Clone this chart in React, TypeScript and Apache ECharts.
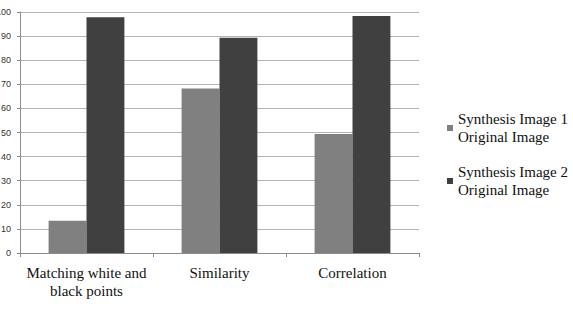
import React, { useEffect, useRef } from "react";
import * as echarts from "echarts";

const categories = ["Matching white and\nblack points", "Similarity", "Correlation"];
const seriesNames = ["Synthesis Image 1\nOriginal Image", "Synthesis Image 2\nOriginal Image"];
const series1 = [13.4, 68.3, 49.4];
const series2 = [97.8, 89.3, 98.3];
const yMin = 0;
const yMax = 100;
const yStep = 10;

export default function App() {
  const ref = useRef<HTMLDivElement>(null);
  useEffect(() => {
    if (!ref.current) return;
    const chart = echarts.init(ref.current, null, { renderer: "svg" });
    chart.setOption({
      animation: false,
      backgroundColor: "#ffffff",
      grid: {
        left: 20,
        right: 154,
        top: 12,
        bottom: 57,
        containLabel: false,
        outerBoundsMode: "none",
      },
      legend: {
        orient: "vertical",
        left: 447,
        top: 101,
        padding: 0,
        itemWidth: 6,
        itemHeight: 6,
        itemGap: -1,
        icon: "rect",
        data: seriesNames,
        textStyle: {
          fontFamily: "Liberation Serif",
          fontSize: 15,
          lineHeight: 18,
          color: "#111",
          padding: [18, 0, 0, 0],
        },
      },
      xAxis: {
        type: "category",
        data: categories,
        axisLine: { lineStyle: { color: "#8c8c8c" } },
        axisTick: { show: true, length: 4, lineStyle: { color: "#8c8c8c" } },
        axisLabel: {
          interval: 0,
          fontFamily: "Liberation Serif",
          fontSize: 15,
          lineHeight: 18,
          color: "#111",
          margin: 11,
        },
      },
      yAxis: {
        type: "value",
        min: yMin,
        max: yMax,
        interval: yStep,
        axisLine: { show: true, lineStyle: { color: "#8c8c8c" } },
        axisTick: { show: true, length: 3, lineStyle: { color: "#8c8c8c" } },
        splitLine: { lineStyle: { color: "#b4b4b4" } },
        axisLabel: {
          fontFamily: "Liberation Sans",
          fontSize: 9,
          color: "#333",
          margin: 9,
        },
      },
      series: [
        {
          name: seriesNames[0],
          type: "bar",
          data: series1,
          barGap: "0%",
          barCategoryGap: "43%",
          itemStyle: { color: "#808080" },
        },
        {
          name: seriesNames[1],
          type: "bar",
          data: series2,
          barGap: "0%",
          barCategoryGap: "43%",
          itemStyle: { color: "#404040" },
        },
      ],
    });
    return () => chart.dispose();
  }, []);
  return (
    <div
      ref={ref}
      style={{ position: "absolute", left: 0, top: 0, width: 573, height: 310 }}
    />
  );
}
